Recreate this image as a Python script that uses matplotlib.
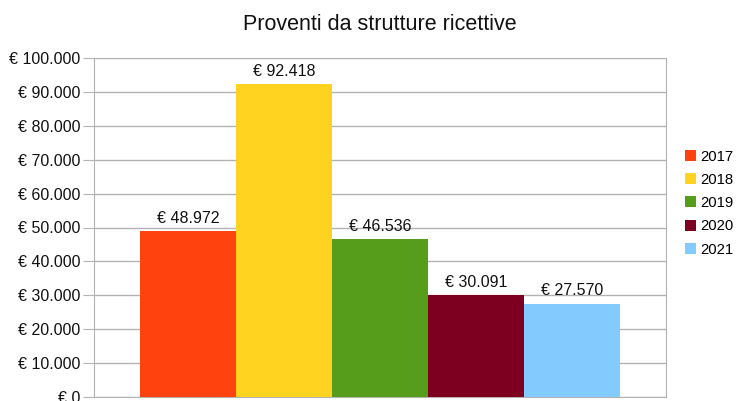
import matplotlib.pyplot as plt
from matplotlib.ticker import FuncFormatter, MultipleLocator

plt.rcParams['font.family'] = ['Liberation Sans', 'DejaVu Sans']

years = ["2017", "2018", "2019", "2020", "2021"]
values = [48972, 92418, 46536, 30091, 27570]
colors = ["#ff420e", "#ffd320", "#579d1c", "#7e0021", "#83caff"]


def euro(v, pos=None):
    return "€ " + "{:,.0f}".format(v).replace(",", ".")


fig = plt.figure(figsize=(7.37, 4.01), dpi=100)
ax = fig.add_axes([94 / 737, 1 - 397 / 401, 572 / 737, 339 / 401])

w = 96 / 572
for i, (yr, v, c) in enumerate(zip(years, values, colors)):
    x = (i - 2) * w
    ax.bar(x, v, width=w, color=c, label=yr, zorder=3)
    ax.text(x, v + 1500, euro(v), ha="center", va="bottom", fontsize=11.5, color="#111111")

ax.set_xlim(-0.5, 0.5)
ax.set_ylim(0, 100000)
ax.yaxis.set_major_locator(MultipleLocator(10000))
ax.yaxis.set_major_formatter(FuncFormatter(euro))
ax.set_xticks([])
ax.grid(axis="y", color="#b3b3b3", linewidth=1, zorder=0)
for s in ["left", "right", "bottom", "top"]:
    ax.spines[s].set_color("#b3b3b3")
ax.spines["top"].set_visible(False)
ax.tick_params(axis="y", length=8, color="#b3b3b3", labelsize=11.5, labelcolor="#111111", pad=2)

ax.set_title("Proventi da strutture ricettive", fontsize=15.5, pad=20, color="#111111")

ax.legend(loc="center left", bbox_to_anchor=(1.01, 0.572), frameon=False, fontsize=10.7,
          handlelength=0.75, handleheight=0.75, handletextpad=0.3, labelspacing=0.62)

fig.savefig("out.png", dpi=100)
